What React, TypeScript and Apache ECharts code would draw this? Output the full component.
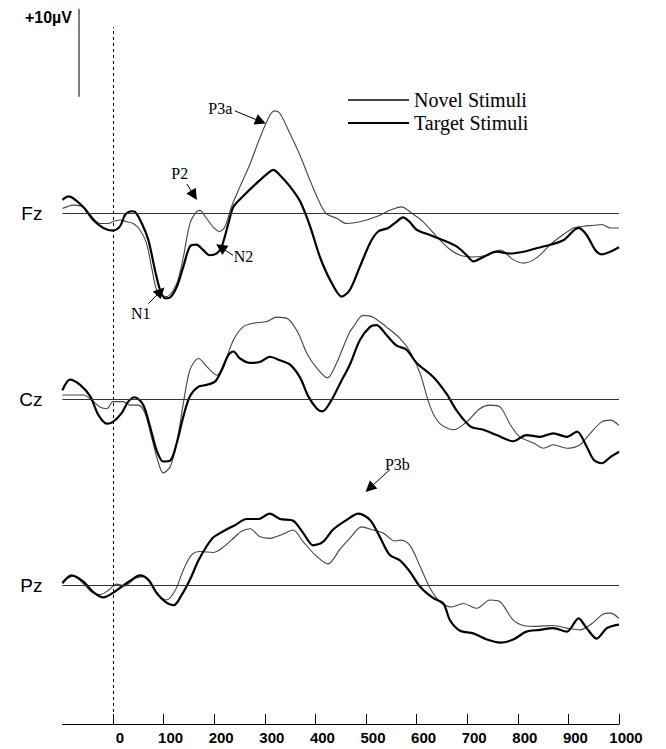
import React, { useEffect, useRef } from "react";
import * as echarts from "echarts";

// Time axis (ms) and labels
const timeTicks = [0, 100, 200, 300, 400, 500, 600, 700, 800, 900, 1000];
const channels = ["Fz", "Cz", "Pz"];
const legendNames = ["Novel Stimuli", "Target Stimuli"];

// [ms, µV]
const fzNovel: [number, number][] = [
  [-100, 0.5], [-78, 0.9], [-59, 0.7], [-45, -0.2], [-26, -1.2], [-9, -1.2], [0, -1.0], [14, -0.8],
  [27, -1.0], [40, -1.2], [53, -1.9], [66, -3.4], [76, -6.1], [86, -8.75], [96, -9.3], [106, -9.5],
  [126, -8.0], [139, -5.0], [152, -1.2], [165, 0.15], [172, 0.3], [182, -0.4], [198, -1.6], [211, -2.1],
  [221, -1.6], [234, 0.7], [251, 3.0], [271, 5.6], [290, 8.5], [310, 11.1], [320, 11.6], [330, 11.3],
  [350, 9.0], [370, 6.5], [389, 3.75], [409, 1.1], [422, -0.1], [442, -0.6], [462, -1.2], [488, -1.0],
  [521, -0.4], [547, 0.3], [570, 0.7], [590, 0], [613, -1.0], [640, -2.7], [663, -4.0], [686, -4.8],
  [712, -5.0], [739, -4.8], [765, -4.2], [791, -5.3], [811, -5.7], [837, -5.1], [864, -3.6], [884, -2.7],
  [910, -1.7], [930, -1.5], [950, -1.4], [966, -1.3], [983, -1.7], [1000, -1.7],
];
const fzTarget: [number, number][] = [
  [-100, 1.5], [-88, 1.9], [-59, 0.7], [-39, -0.8], [-19, -1.7], [0, -2.0], [14, -1.5], [24, -0.2],
  [37, 0.2], [43, 0.15], [57, -1.2], [70, -3.1], [83, -6.5], [93, -8.75], [103, -9.7], [113, -9.6],
  [126, -8.4], [139, -6.1], [152, -3.8], [165, -3.6], [178, -4.2], [191, -4.8], [205, -4.6], [215, -3.8],
  [228, -1.2], [238, 0.7], [257, 1.9], [284, 3.4], [310, 4.7], [317, 4.9], [330, 4.3], [350, 3.0],
  [370, 1.3], [390, -1.6], [409, -5.0], [429, -7.6], [452, -9.5], [468, -8.75], [488, -6.1], [508, -3.4],
  [524, -2.1], [544, -1.7], [560, -1.0], [573, -0.5], [586, -1.0], [600, -1.9], [626, -2.5], [653, -3.1],
  [679, -3.8], [699, -4.8], [712, -5.5], [732, -5.0], [758, -4.4], [785, -4.6], [811, -4.4], [837, -4.0],
  [864, -3.6], [890, -3.1], [920, -1.7], [936, -2.5], [953, -4.2], [966, -4.7], [983, -4.4], [1000, -3.9],
];
const czNovel: [number, number][] = [
  [-100, 0.45], [-59, 0.45], [-42, -0.1], [-26, -0.9], [-12, -1.1], [0, -0.3], [20, -0.3], [34, -0.7],
  [50, -0.7], [63, -1.6], [76, -4.3], [90, -7.3], [99, -8.4], [113, -7.7], [126, -5.0], [139, -0.5],
  [152, 3.3], [169, 4.6], [185, 3.7], [205, 2.7], [221, 4.2], [238, 6.7], [257, 8.2], [277, 8.6],
  [304, 8.8], [323, 9.3], [346, 9.1], [366, 7.5], [383, 5.2], [403, 3.5], [424, 2.4], [442, 4.1],
  [455, 5.9], [468, 7.65], [475, 8.2], [494, 9.5], [514, 9.3], [540, 8.2], [567, 6.9], [587, 5.4],
  [607, 2.9], [627, -0.9], [646, -2.8], [673, -3.5], [699, -2.6], [725, -1.1], [745, -0.7], [765, -0.9],
  [785, -2.9], [804, -4.3], [831, -5.0], [851, -5.6], [870, -5.2], [897, -5.6], [923, -5.2], [943, -3.9],
  [966, -2.6], [983, -2.4], [1000, -3.0],
];
const czTarget: [number, number][] = [
  [-100, 1.0], [-85, 2.2], [-65, 1.6], [-45, 0.3], [-29, -1.8], [-12, -2.8], [0, -2.6], [17, -1.6],
  [30, -0.3], [43, 0.2], [60, -0.7], [73, -3.1], [86, -5.8], [99, -7.1], [113, -7.0], [126, -5.0],
  [139, -2.0], [152, 0.3], [169, 1.4], [185, 1.6], [202, 2.0], [215, 3.3], [228, 5.0], [238, 5.4],
  [251, 4.6], [271, 4.1], [290, 4.2], [310, 4.8], [330, 4.4], [350, 3.9], [370, 2.4], [386, 0.3],
  [403, -1.1], [414, -1.4], [432, -0.1], [449, 1.8], [468, 3.9], [488, 6.7], [508, 8.2], [521, 8.4],
  [540, 7.3], [560, 6.1], [580, 5.6], [600, 4.1], [633, 2.5], [659, 0.6], [679, -1.3], [706, -3.1],
  [732, -3.5], [758, -4.1], [791, -4.8], [817, -4.1], [844, -4.3], [870, -3.9], [897, -4.3], [917, -3.7],
  [936, -5.4], [950, -6.9], [966, -7.3], [983, -6.6], [1000, -6.0],
];
const pzNovel: [number, number][] = [
  [-100, 0.4], [-78, 1.0], [-59, 0.2], [-42, -0.8], [-26, -1.1], [-9, -0.6], [7, 0.1], [24, -0.1],
  [43, 0.75], [60, 0.95], [76, 0], [93, -1.3], [106, -1.7], [123, -0.6], [139, 1.7], [155, 3.4],
  [172, 3.8], [198, 3.7], [211, 4.0], [234, 5.1], [254, 6.1], [271, 6.4], [290, 5.5], [310, 5.3],
  [333, 5.7], [356, 6.25], [376, 4.9], [400, 3.4], [425, 2.4], [449, 4.1], [468, 5.3], [491, 6.6],
  [514, 6.25], [534, 5.9], [557, 5.0], [570, 5.1], [587, 4.5], [607, 2.1], [627, -0.4], [646, -1.9],
  [669, -2.5], [692, -2.1], [719, -2.65], [745, -1.7], [765, -1.9], [791, -4.0], [811, -4.6], [837, -4.7],
  [870, -4.6], [897, -4.9], [923, -5.1], [946, -4.4], [969, -3.3], [983, -3.2], [1000, -3.8],
];
const pzTarget: [number, number][] = [
  [-100, 0.2], [-82, 1.1], [-59, 0.4], [-39, -0.8], [-19, -1.4], [0, -0.9], [17, -0.2], [37, 0.6],
  [53, 1.1], [70, 0.6], [86, -0.9], [103, -1.9], [120, -2.3], [136, -1.1], [152, 0.6], [169, 2.8],
  [185, 4.4], [198, 5.4], [218, 6.1], [241, 6.8], [264, 7.5], [287, 7.5], [310, 8.1], [330, 7.5],
  [356, 7.3], [376, 5.9], [396, 4.5], [415, 4.9], [435, 6.3], [462, 7.4], [485, 8.1], [508, 7.4],
  [527, 5.5], [547, 3.4], [567, 2.8], [587, 1.5], [607, -0.2], [633, -1.5], [653, -2.1], [666, -4.0],
  [686, -5.2], [712, -5.5], [739, -6.2], [765, -6.55], [791, -6.2], [817, -5.3], [844, -5.1], [870, -4.9],
  [897, -5.3], [920, -3.8], [936, -4.9], [956, -6.1], [976, -4.9], [1000, -4.5],
];

// Component annotations, in [ms, µV] of their channel
const fzAnnotations = [
  { name: "P3a", at: [212, 11.9], from: [241, 11.6], to: [292, 10.4] },
  { name: "P2", at: [132, 4.5], from: [146, 3.3], to: [160, 2.0] },
  { name: "N2", at: [258, -4.9], from: [237, -4.8], to: [213, -3.9] },
  { name: "N1", at: [55, -11.4], from: [70, -10.3], to: [94, -8.9] },
];
const pzAnnotations = [{ name: "P3b", at: [562, 13.75], from: [547, 13.1], to: [507, 11.0] }];
const scaleBar: [number, number][] = [[-67, 13.2], [-67, 23.2]];

const seriesData = [
  [fzNovel, fzTarget],
  [czNovel, czTarget],
  [pzNovel, pzTarget],
];
const annotationsByChannel = [fzAnnotations, [], pzAnnotations];

const UV = 8.8; // px per µV
const LEFT = 62.4;
const WIDTH = 556.6;
const baselines = [213, 399, 585];
const yRanges: [number, number][] = [[-12, 24], [-10, 10], [-10, 15]];

export default function App() {
  const ref = useRef<HTMLDivElement>(null);
  useEffect(() => {
    document.body.style.margin = "0";
    if (!ref.current) return;
    const chart = echarts.init(ref.current, null, { renderer: "svg" });

    const grids: any[] = yRanges.map(([mn, mx], i) => ({
      left: LEFT,
      width: WIDTH,
      top: baselines[i] - mx * UV,
      height: (mx - mn) * UV,
    }));
    grids.push({ left: LEFT, width: WIDTH, top: 27, height: 697 });

    const xAxes: any[] = [0, 1, 2].map((i) => ({
      type: "value", gridIndex: i, min: -100, max: 1000, show: false,
    }));
    xAxes.push({
      type: "value",
      gridIndex: 3,
      min: -100,
      max: 1000,
      interval: 100,
      axisLine: { show: true, lineStyle: { color: "#000", width: 1 } },
      axisTick: { show: true, inside: true, length: 10, customValues: timeTicks, lineStyle: { color: "#000", width: 1 } },
      axisLabel: {
        customValues: timeTicks,
        formatter: (v: number) => String(v),
        margin: 6,
        color: "#000",
        fontFamily: "Liberation Sans",
        fontWeight: "bold",
        fontSize: 15,
        padding: [0, 0, 0, 14],
      },
      splitLine: { show: false },
    });

    const yAxes: any[] = yRanges.map(([mn, mx], i) => ({
      type: "value",
      gridIndex: i,
      min: mn,
      max: mx,
      axisLine: { show: false },
      axisTick: { show: false },
      splitLine: { show: false },
      axisLabel: {
        customValues: [0],
        formatter: () => channels[i],
        margin: 20,
        color: "#000",
        fontFamily: "Liberation Sans",
        fontSize: 19,
      },
    }));
    yAxes.push({ type: "value", gridIndex: 3, min: 0, max: 1, show: false });

    const series: any[] = [];
    seriesData.forEach(([novel, target], i) => {
      const ann = annotationsByChannel[i];
      series.push({
        type: "line",
        name: legendNames[0],
        xAxisIndex: i,
        yAxisIndex: i,
        data: novel,
        symbol: "none",
        smooth: 0.3,
        clip: false,
        lineStyle: { color: "#444", width: 1.1 },
        itemStyle: { color: "#444" },
        markLine: {
          silent: true,
          symbol: "none",
          label: { show: false },
          lineStyle: { color: "#333", width: 1, type: "solid" },
          data: [{ yAxis: 0 }],
        },
      });
      series.push({
        type: "line",
        name: legendNames[1],
        xAxisIndex: i,
        yAxisIndex: i,
        data: target,
        symbol: "none",
        smooth: 0.3,
        clip: false,
        lineStyle: { color: "#000", width: 2.2 },
        itemStyle: { color: "#000" },
        markLine: ann.length
          ? {
              silent: true,
              symbol: ["none", "triangle"],
              symbolSize: 11,
              label: { show: false },
              lineStyle: { color: "#000", width: 1, type: "solid" },
              data: ann.map((a) => [{ coord: a.from }, { coord: a.to }]),
            }
          : undefined,
        markPoint: ann.length
          ? {
              silent: true,
              symbol: "circle",
              symbolSize: 0,
              label: {
                show: true,
                position: "inside",
                formatter: "{b}",
                color: "#000",
                fontFamily: "Liberation Serif",
                fontSize: 16,
              },
              data: ann.map((a) => ({ name: a.name, coord: a.at })),
            }
          : undefined,
      });
    });
    // scale bar
    series.push({
      type: "line",
      name: "scale",
      xAxisIndex: 0,
      yAxisIndex: 0,
      data: [],
      symbol: "none",
      markLine: {
        silent: true,
        symbol: "none",
        label: { show: false },
        lineStyle: { color: "#555", width: 1.5, type: "solid" },
        data: [[{ coord: scaleBar[0] }, { coord: scaleBar[1] }]],
      },
    });
    // stimulus onset
    series.push({
      type: "line",
      name: "onset",
      xAxisIndex: 3,
      yAxisIndex: 3,
      data: [],
      symbol: "none",
      markLine: {
        silent: true,
        symbol: "none",
        label: { show: false },
        lineStyle: { color: "#000", width: 1, type: [3, 3] },
        data: [{ xAxis: 0 }],
      },
    });

    chart.setOption({
      animation: false,
      backgroundColor: "#fff",
      legend: {
        data: legendNames,
        orient: "vertical",
        left: 347,
        top: 90,
        padding: 0,
        itemWidth: 61,
        itemHeight: 20,
        itemGap: 3,
        itemStyle: { color: "transparent", borderWidth: 0, opacity: 0 },
        textStyle: { fontFamily: "Liberation Serif", fontSize: 20, color: "#000", lineHeight: 20, height: 20 },
      },
      grid: grids,
      xAxis: xAxes,
      yAxis: yAxes,
      series,
      graphic: [
        {
          type: "text",
          x: 72,
          y: 17,
          style: {
            text: "+10µV",
            align: "right",
            verticalAlign: "middle",
            fill: "#000",
            font: 'bold 16px "Liberation Sans"',
          },
        },
      ],
    });
    return () => chart.dispose();
  }, []);
  return <div ref={ref} style={{ width: 666, height: 749 }} />;
}
